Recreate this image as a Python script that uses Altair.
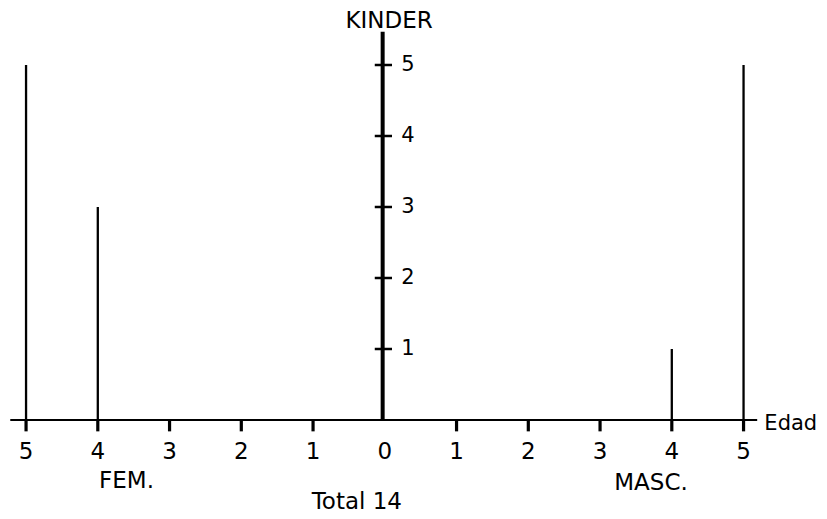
import altair as alt
import pandas as pd

# ---- data ----
fem_ages = [5, 4]
fem_counts = [5, 3]
masc_ages = [4, 5]
masc_counts = [1, 5]
x_ticks = [-5, -4, -3, -2, -1, 0, 1, 2, 3, 4, 5]
x_tick_labels = ["5", "4", "3", "2", "1", "0", "1", "2", "3", "4", "5"]
y_ticks = [1, 2, 3, 4, 5]
y_tick_labels = ["1", "2", "3", "4", "5"]
total_label = "Total 14"

FONT = "DejaVu Sans"
W, H = 810, 505
xs = alt.Scale(domain=[-5.2516, 6.0376], nice=False, zero=False)
ys = alt.Scale(domain=[-1.3099, 5.8028], nice=False, zero=False)

bars = pd.DataFrame({
    "x": [-a for a in fem_ages] + masc_ages,
    "y": fem_counts + masc_counts,
})
xt = pd.DataFrame({"x": x_ticks, "lab": x_tick_labels})
yt = pd.DataFrame({"y": y_ticks, "lab": y_tick_labels})

def X(f="x"):
    return alt.X(f"{f}:Q", scale=xs, axis=None)

def Y(f="y"):
    return alt.Y(f"{f}:Q", scale=ys, axis=None)

h_axis = alt.Chart(pd.DataFrame({"x": [-5.22], "x2": [5.19], "y": [0]})).mark_rule(
    color="black", strokeWidth=2.2).encode(x=X(), x2="x2:Q", y=Y())
v_axis = alt.Chart(pd.DataFrame({"x": [-0.03], "y": [0], "y2": [5.47]})).mark_rule(
    color="black", strokeWidth=4).encode(x=X(), y=Y(), y2="y2:Q")

xtick_df = pd.DataFrame({"x": [t for t in x_ticks if t != 0]})
xtick_df["y"] = 0
xtick_df["y2"] = -0.16
x_tick_marks = alt.Chart(xtick_df).mark_rule(color="black", strokeWidth=3.2).encode(
    x=X(), y=Y(), y2="y2:Q")

ytick_df = pd.DataFrame({"y": y_ticks})
ytick_df["x"] = -0.14
ytick_df["x2"] = 0.1
y_tick_marks = alt.Chart(ytick_df).mark_rule(color="black", strokeWidth=2.5).encode(
    x=X(), x2="x2:Q", y=Y())

bar_df = bars.copy()
bar_df["y0"] = 0
bar_marks = alt.Chart(bar_df).mark_rule(color="black", strokeWidth=2.3).encode(
    x=X(), y=Y("y0"), y2="y:Q")

x_lab_df = xt.copy()
x_lab_df["y"] = -0.549
x_labels = alt.Chart(x_lab_df).mark_text(
    font=FONT, fontSize=23, baseline="alphabetic", align="center", color="black"
).encode(x=X(), y=Y(), text="lab:N")

y_lab_df = yt.copy()
y_lab_df["x"] = 0.23
y_labels = alt.Chart(y_lab_df).mark_text(
    font=FONT, fontSize=21, baseline="middle", align="left", color="black"
).encode(x=X(), y=Y(), text="lab:N")

ann_df = pd.DataFrame({
    "x": [0.06, -3.6, 3.71, -0.39],
    "y": [5.521, -0.96, -0.99, -1.255],
    "t": ["KINDER", "FEM.", "MASC.", total_label],
})
ann = alt.Chart(ann_df).mark_text(
    font=FONT, fontSize=23, baseline="alphabetic", align="center", color="black"
).encode(x=X(), y=Y(), text="t:N")

edad = alt.Chart(pd.DataFrame({"x": [5.29], "y": [-0.141], "t": ["Edad"]})).mark_text(
    font=FONT, fontSize=21, baseline="alphabetic", align="left", color="black"
).encode(x=X(), y=Y(), text="t:N")

chart = alt.layer(
    h_axis, v_axis, x_tick_marks, y_tick_marks, bar_marks,
    x_labels, y_labels, ann, edad
).properties(
    width=W, height=H, padding=0,
    autosize=alt.AutoSizeParams(type="none"),
    background="white",
).configure_view(stroke=None)

chart.save("out.html", embed_options={"renderer": "svg", "actions": False})
